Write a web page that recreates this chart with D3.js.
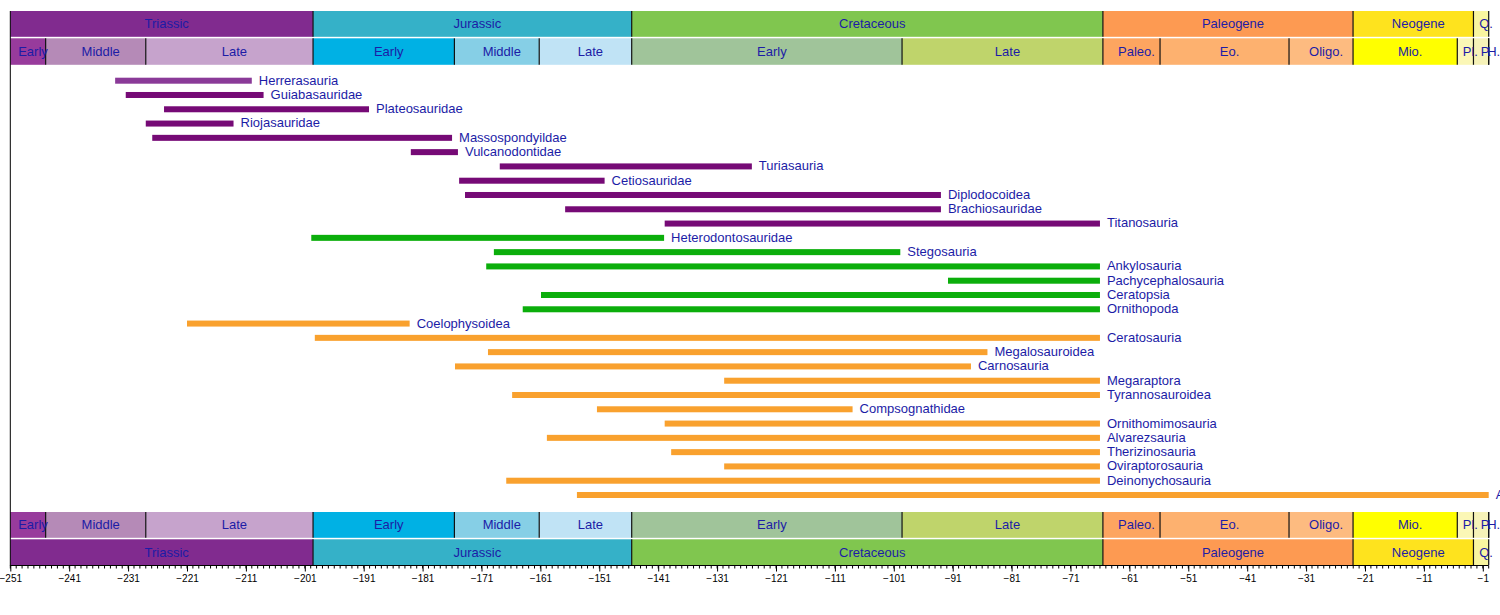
<!DOCTYPE html>
<html>
<head>
<meta charset="utf-8">
<script src="https://cdn.jsdelivr.net/npm/d3@7"></script>
<style>
  body { margin: 0; background: #fff; }
  svg { display: block; font-family: "Liberation Sans", Arial, Helvetica, sans-serif; }
</style>
</head>
<body>
<div id="vis-timeline"></div>
<script>
(function(){
  // Geological periods (Ma, negative = before present)
  const periodNames = ["Triassic", "Jurassic", "Cretaceous", "Paleogene", "Neogene", "Q."];
  const periodStart = [-251, -199.6, -145.5, -65.5, -23.03, -2.588];
  const periodEnd   = [-199.6, -145.5, -65.5, -23.03, -2.588, 0];

  // Epochs
  const epochNames = ["Early", "Middle", "Late", "Early", "Middle", "Late", "Early", "Late",
                      "Paleo.", "Eo.", "Oligo.", "Mio.", "Pl.", "P.", "H."];
  const epochStart = [-251, -245, -228, -199.6, -175.6, -161.2, -145.5, -99.6,
                      -65.5, -55.8, -33.9, -23.03, -5.332, -2.588, -0.0117];
  const epochEnd   = [-245, -228, -199.6, -175.6, -161.2, -145.5, -99.6, -65.5,
                      -55.8, -33.9, -23.03, -5.332, -2.588, -0.0117, 0];

  // Dinosaur clades: name, group, first and last appearance (Ma)
  const cladeNames = ["Herrerasauria", "Guiabasauridae", "Plateosauridae", "Riojasauridae",
    "Massospondyildae", "Vulcanodontidae", "Turiasauria", "Cetiosauridae", "Diplodocoidea",
    "Brachiosauridae", "Titanosauria", "Heterodontosauridae", "Stegosauria", "Ankylosauria",
    "Pachycephalosauria", "Ceratopsia", "Ornithopoda", "Coelophysoidea", "Ceratosauria",
    "Megalosauroidea", "Carnosauria", "Megaraptora", "Tyrannosauroidea", "Compsognathidae",
    "Ornithomimosauria", "Alvarezsauria", "Therizinosauria", "Oviraptorosauria",
    "Deinonychosauria", "Avialae"];
  const cladeGroup = ["herrera", "sauro", "sauro", "sauro", "sauro", "sauro", "sauro", "sauro",
    "sauro", "sauro", "sauro", "ornith", "ornith", "ornith", "ornith", "ornith", "ornith",
    "thero", "thero", "thero", "thero", "thero", "thero", "thero", "thero", "thero", "thero",
    "thero", "thero", "thero"];
  const cladeStart = [-233.2, -231.4, -224.9, -228, -226.9, -183, -167.9, -174.8, -173.8,
    -156.8, -139.9, -199.9, -168.9, -170.2, -91.8, -160.9, -164, -221, -199.3, -169.9,
    -175.5, -129.8, -165.8, -151.4, -139.9, -159.9, -138.8, -129.8, -166.8, -154.8];
  const cladeEnd = [-210, -208, -190.1, -213.1, -176, -175, -125.1, -150.1, -93, -93, -66,
    -140, -99.9, -66, -66, -66, -66, -183.2, -66, -85.1, -87.9, -66, -66, -108, -66, -66,
    -66, -66, -66, 0];

  // Tick labels along the bottom
  const tickValues = d3.range(-251, 0, 10);

  const groupColor = { herrera: "#8a3a98", sauro: "#760a76", ornith: "#0bae0b", thero: "#f9a12e" };
  const bandColor = {
    "Triassic": "#812b8f", "Jurassic": "#35b1c8", "Cretaceous": "#80c64f",
    "Paleogene": "#fd9a52", "Neogene": "#fee31e", "Q.": "#f9f6a0",
    "Early-0": "#983b9c", "Middle-1": "#b58ab7", "Late-2": "#c6a3cc",
    "Early-3": "#00b1e4", "Middle-4": "#86cfe6", "Late-5": "#c0e3f5",
    "Early-6": "#a0c49a", "Late-7": "#bfd46b",
    "Paleo.-8": "#fda560", "Eo.-9": "#fdb16f", "Oligo.-10": "#fdbb80",
    "Mio.-11": "#ffff00", "Pl.-12": "#fbf7b6", "P.-13": "#f6f2b8", "H.-14": "#f6f2d0"
  };
  const textColor = "#1c1ca6";

  const width = 1500, height = 615;
  const x = d3.scaleLinear().domain([-251, 0]).range([10.3, 1488.7]);
  const y = d3.scaleLinear().domain([0, cladeNames.length - 1]).range([80.7, 495]);

  const svg = d3.select("#vis-timeline").append("svg")
    .attr("width", width)
    .attr("height", height);

  const periods = periodNames.map((n, i) => ({ name: n, key: n, start: periodStart[i], end: periodEnd[i] }));
  const epochs = epochNames.map((n, i) => ({ name: n, key: n + "-" + i, start: epochStart[i], end: epochEnd[i] }));

  // Draw a row of time bands
  function drawBand(data, top, h, fontSize) {
    const g = svg.append("g");
    g.selectAll("rect").data(data).enter().append("rect")
      .attr("x", d => x(d.start))
      .attr("y", top)
      .attr("width", d => Math.max(0.5, x(d.end) - x(d.start)))
      .attr("height", h)
      .style("fill", d => bandColor[d.key]);
    g.selectAll("line").data(data).enter().append("line")
      .attr("x1", d => x(d.end)).attr("x2", d => x(d.end))
      .attr("y1", top).attr("y2", top + h)
      .style("stroke", "#111").style("stroke-width", 1.2);
    g.selectAll("text").data(data).enter().append("text")
      .attr("x", d => (x(d.start) + x(d.end)) / 2 + 5)
      .attr("y", top + h / 2 + 1)
      .attr("text-anchor", "middle")
      .attr("dominant-baseline", "middle")
      .style("font-size", fontSize + "px")
      .style("fill", textColor)
      .text(d => d.name);
  }

  drawBand(periods, 11, 25.8, 13);
  drawBand(epochs, 38.3, 26.5, 13);
  drawBand(epochs, 512, 25.8, 13);
  drawBand(periods, 539.3, 25.8, 13);

  // Clade range bars
  const clades = cladeNames.map((n, i) => ({
    name: n, group: cladeGroup[i], start: cladeStart[i], end: cladeEnd[i], row: i
  }));

  svg.selectAll(".clade-bar").data(clades).enter().append("rect")
    .attr("class", "clade-bar")
    .attr("x", d => x(d.start))
    .attr("y", d => y(d.row) - 3)
    .attr("width", d => x(d.end) - x(d.start))
    .attr("height", 6)
    .style("fill", d => groupColor[d.group]);

  svg.selectAll(".clade-label").data(clades).enter().append("text")
    .attr("class", "clade-label")
    .attr("x", d => x(d.end) + 7)
    .attr("y", d => y(d.row) + 0.5)
    .attr("dominant-baseline", "middle")
    .style("font-size", "13px")
    .style("fill", textColor)
    .text(d => d.name);

  // Left border line
  svg.append("line")
    .attr("x1", x(-251)).attr("x2", x(-251))
    .attr("y1", 11).attr("y2", 566)
    .style("stroke", "#000").style("stroke-width", 1);

  // Bottom axis with minor ticks every 1 Ma
  const axisG = svg.append("g").attr("transform", "translate(0,565.5)");
  axisG.call(d3.axisBottom(x).tickValues(tickValues).tickSize(6).tickFormat(d3.format("d")));
  axisG.select(".domain").attr("d", `M${x(-251)},0H${x(0)}`).style("stroke", "#000");
  axisG.selectAll(".tick text")
    .attr("y", 9)
    .style("font-size", "10px")
    .style("font-family", "\"Liberation Sans\", Arial, sans-serif")
    .style("fill", "#000");
  axisG.selectAll(".minor").data(d3.range(-251, 1, 1)).enter().append("line")
    .attr("class", "minor")
    .attr("x1", d => x(d)).attr("x2", d => x(d))
    .attr("y1", 0).attr("y2", 3)
    .style("stroke", "#000").style("stroke-width", 1);
})();
</script>
</body>
</html>
